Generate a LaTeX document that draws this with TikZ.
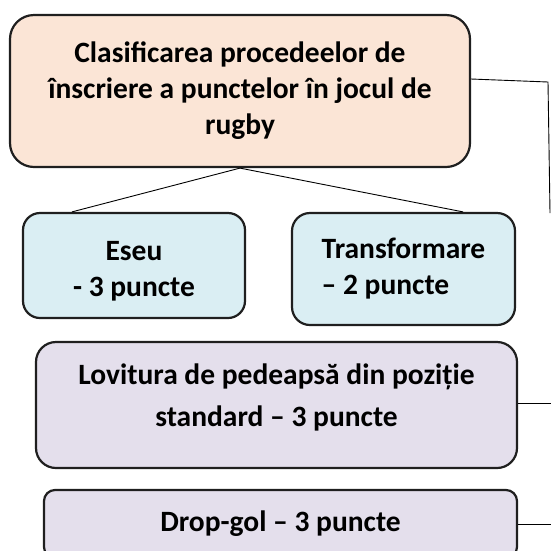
\documentclass[tikz,border=0pt]{standalone}
\usepackage{fontspec}
\setmainfont{Carlito}
\usetikzlibrary{positioning}
\definecolor{peach}{HTML}{FBE5D6}
\definecolor{paleblue}{HTML}{DAEEF3}
\definecolor{lavender}{HTML}{E4DFEC}

\begin{document}
\begin{tikzpicture}[x=1pt, y=-1pt,
    box/.style={draw=black!88, line width=2.2pt, align=center, inner sep=0pt,
        font=\fontsize{29.5}{36}\selectfont\bfseries},
    link/.style={line width=0.9pt}]
    \useasboundingbox (0,0) rectangle (551,550);
    \clip (0,0) rectangle (551,550);

    % Title box
    \node[box, fill=peach, rounded corners=24pt, minimum width=460pt, minimum height=152pt]
        (title) at (240,91) {Clasificarea procedeelor de\\ înscriere a punctelor în jocul de\\ rugby};

    % Two scoring boxes below
    \node[box, fill=paleblue, rounded corners=17pt, minimum width=222pt, minimum height=105pt]
        (eseu) at (134,265.5) {\mbox{}\\[-5pt] Eseu\\ - 3 puncte};
    \node[box, fill=paleblue, rounded corners=18pt, minimum width=223pt, minimum height=112pt, align=left]
        (transf) at (403.5,269) {Transformare\\ – 2 puncte};

    % Kicks
    \node[box, fill=lavender, rounded corners=20pt, minimum width=481pt, minimum height=126pt,
        font=\fontsize{29.5}{42}\selectfont\bfseries]
        (penalty) at (276.5,405) {Lovitura de pedeapsă din poziție\\ standard – 3 puncte\\[-22pt]\mbox{}};
    \node[box, fill=lavender, rounded corners=11pt, minimum width=473pt, minimum height=68pt]
        (dropgol) at (280.5,524) {Drop-gol – 3 puncte};

    % Connectors
    \coordinate (rtop) at (548,82);
    \coordinate (rend) at (550,213);
    \coordinate (pend) at (553,403);
    \coordinate (dend) at (553,524);
    \draw[link] (title.south) -- ([xshift=50pt]eseu.north west);
    \draw[link] (title.south) -- ([xshift=-53pt]transf.north east);
    \draw[link] ([yshift=12pt]title.east) -- (rtop) -- (rend);
    \draw[link] ([yshift=2pt]penalty.east) -- (pend);
    \draw[link] (dropgol.east) -- (dend);
\end{tikzpicture}
\end{document}
